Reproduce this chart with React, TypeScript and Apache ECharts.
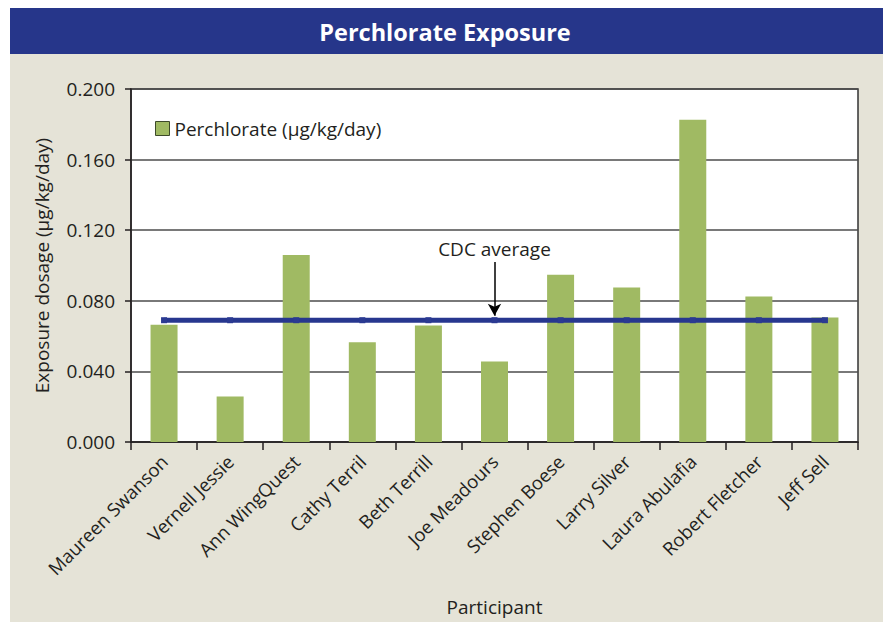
import React, { useEffect, useRef } from "react";
import * as echarts from "echarts";

const participants = [
  "Maureen Swanson",
  "Vernell Jessie",
  "Ann WingQuest",
  "Cathy Terril",
  "Beth Terrill",
  "Joe Meadours",
  "Stephen Boese",
  "Larry Silver",
  "Laura Abulafia",
  "Robert Fletcher",
  "Jeff Sell",
];
const perchlorate = [0.0665, 0.0258, 0.106, 0.0565, 0.066, 0.0456, 0.0948, 0.0875, 0.1826, 0.0824, 0.0705];
const cdcAverage = [0.069, 0.069, 0.069, 0.069, 0.069, 0.069, 0.069, 0.069, 0.069, 0.069, 0.069];
const yTicks = { min: 0, max: 0.2, interval: 0.04 };
const arrowFrom = 0.102;
const arrowTo = 0.0715;
const arrowCategory = "Joe Meadours";

const FONT = "'Open Sans', sans-serif";
const INK = "#231f20";

export default function App() {
  const ref = useRef<HTMLDivElement>(null);
  useEffect(() => {
    if (!ref.current) return;
    const chart = echarts.init(ref.current, undefined, { renderer: "svg" });
    chart.setOption({
      animation: false,
      backgroundColor: "#ffffff",
      textStyle: { fontFamily: FONT },
      graphic: [
        { type: "rect", z: -10, shape: { x: 10, y: 8, width: 873, height: 614 }, style: { fill: "#e5e3d7" } },
        { type: "rect", z: -9, shape: { x: 10, y: 8, width: 873, height: 46 }, style: { fill: "#26368a" } },
        {
          type: "text",
          x: 445,
          y: 32,
          style: {
            text: "Perchlorate Exposure",
            fill: "#ffffff",
            font: `bold 23.5px ${FONT}`,
            align: "center",
            verticalAlign: "middle",
          },
        },
      ],
      legend: {
        data: ["Perchlorate (µg/kg/day)"],
        left: 150,
        top: 114,
        icon: "rect",
        itemWidth: 14,
        itemHeight: 14,
        itemGap: 6,
        itemStyle: { borderColor: "#3d4a2a", borderWidth: 1 },
        textStyle: { fontSize: 19, color: INK, fontFamily: FONT, padding: [0, 0, 0, 0] },
      },
      grid: {
        left: 131,
        right: 25,
        top: 89,
        bottom: 180,
        show: true,
        backgroundColor: "#ffffff",
        borderColor: "#333333",
        borderWidth: 1.5,
      },
      xAxis: {
        type: "category",
        data: participants,
        boundaryGap: true,
        name: "Participant",
        nameLocation: "middle",
        nameGap: 155,
        nameTextStyle: { fontSize: 19, color: INK, fontFamily: FONT },
        axisLine: { lineStyle: { color: INK, width: 1.5 } },
        axisTick: { show: true, length: 8, lineStyle: { color: INK, width: 1.5 } },
        axisLabel: {
          rotate: 45,
          fontSize: 18.5,
          color: INK,
          fontFamily: FONT,
          margin: 16,
          interval: 0,
        },
      },
      yAxis: {
        type: "value",
        min: yTicks.min,
        max: yTicks.max,
        interval: yTicks.interval,
        name: "Exposure dosage (µg/kg/day)",
        nameLocation: "middle",
        nameGap: 80,
        nameTextStyle: { fontSize: 19, color: INK, fontFamily: FONT },
        axisLine: { show: true, lineStyle: { color: INK, width: 1.5 } },
        axisTick: { show: true, length: 6, lineStyle: { color: INK, width: 1.5 } },
        axisLabel: {
          fontSize: 19,
          color: INK,
          fontFamily: FONT,
          margin: 16,
          formatter: (v: number) => v.toFixed(3),
        },
        splitLine: { show: true, lineStyle: { color: "#4d4d4d", width: 1.5 } },
      },
      series: [
        {
          name: "Perchlorate (µg/kg/day)",
          type: "bar",
          data: perchlorate,
          barWidth: 27,
          itemStyle: { color: "#a0ba63" },
          z: 2,
        },
        {
          name: "CDC average",
          type: "line",
          data: cdcAverage,
          symbol: "rect",
          symbolSize: 6,
          itemStyle: { color: "#2b3a92" },
          lineStyle: { color: "#27378f", width: 5 },
          z: 3,
          markLine: {
            silent: true,
            symbol: ["none", "arrow"],
            symbolSize: [10, 12],
            lineStyle: { color: "#000000", width: 1.5, type: "solid" },
            label: {
              show: true,
              position: "start",
              formatter: "CDC average",
              fontSize: 19,
              color: INK,
              fontFamily: FONT,
              distance: 3,
            },
            data: [
              [
                { coord: [arrowCategory, arrowFrom] },
                { coord: [arrowCategory, arrowTo] },
              ],
            ],
          },
        },
      ],
    });
    return () => chart.dispose();
  }, []);
  return (
    <div
      ref={ref}
      style={{ position: "fixed", left: 0, top: 0, width: 883, height: 622 }}
    />
  );
}
